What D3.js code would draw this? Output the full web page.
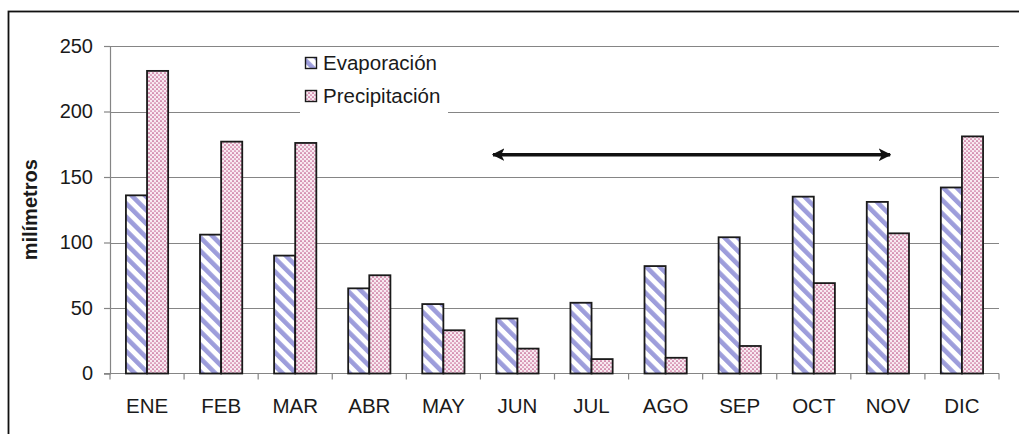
<!DOCTYPE html>
<html>
<head>
<meta charset="utf-8">
<script src="https://cdn.jsdelivr.net/npm/d3@7"></script>
<style>
  html, body { margin: 0; padding: 0; background: #fff; }
  svg { display: block; font-family: "Liberation Sans", Arial, sans-serif; }
</style>
</head>
<body>
<svg id="chart" width="1019" height="434"></svg>
<script>
const months = ["ENE","FEB","MAR","ABR","MAY","JUN","JUL","AGO","SEP","OCT","NOV","DIC"];
const evaporacion = [136, 106, 90, 65, 53, 42, 54, 82, 104, 135, 131, 142];
const precipitacion = [231, 177, 176, 75, 33, 19, 11, 12, 21, 69, 107, 181];
const seriesNames = ["Evaporación", "Precipitación"];
const yTicks = [0, 50, 100, 150, 200, 250];
const yLabel = "milímetros";
// annotation arrow (in category-index units and data value)
const arrowFromIndex = 5.17, arrowToIndex = 10.53, arrowValue = 167;

const svg = d3.select("#chart");
const defs = svg.append("defs");

// stripe pattern (Evaporación)
const stripe = defs.append("pattern")
  .attr("id", "stripe").attr("patternUnits", "userSpaceOnUse")
  .attr("width", 9.5).attr("height", 9.5)
  .attr("patternTransform", "rotate(-45)");
stripe.append("rect").attr("width", 9.5).attr("height", 9.5).attr("fill", "#ffffff");
stripe.append("rect").attr("x", 0).attr("width", 4.6).attr("height", 9.5).attr("fill", "#9d9ddb");

// dot pattern (Precipitación)
const dots = defs.append("pattern")
  .attr("id", "dots").attr("patternUnits", "userSpaceOnUse")
  .attr("width", 4).attr("height", 4);
dots.append("rect").attr("width", 4).attr("height", 4).attr("fill", "#f8eaf1");
dots.append("circle").attr("cx", 1).attr("cy", 1).attr("r", 0.85).attr("fill", "#b84a80");
dots.append("circle").attr("cx", 3).attr("cy", 3).attr("r", 0.85).attr("fill", "#c86a96");

const fills = ["url(#stripe)", "url(#dots)"];

const pLeft = 110, pRight = 999, pTop = 46, pBottom = 373.5;

const x = d3.scaleBand().domain(months).range([pLeft, pRight])
  .paddingInner(0.43).paddingOuter(0.215);
const xs = d3.scaleBand().domain(seriesNames).range([0, x.bandwidth()]);
const xi = d3.scaleLinear().domain([0, months.length]).range([pLeft, pRight]);
const y = d3.scaleLinear().domain([0, 250]).range([pBottom, pTop]);

// outer frame
svg.append("rect").attr("x", 8.5).attr("y", 11.5).attr("width", 1100).attr("height", 500)
  .attr("fill", "none").attr("stroke", "#111").attr("stroke-width", 1.8);

// gridlines
svg.append("g").selectAll("line").data(yTicks.filter(d => d > 0)).join("line")
  .attr("x1", pLeft).attr("x2", pRight)
  .attr("y1", d => Math.round(y(d)) + 0.5).attr("y2", d => Math.round(y(d)) + 0.5)
  .attr("stroke", "#858585").attr("stroke-width", 1.2);

// y axis
const yAxis = d3.axisLeft(y).tickValues(yTicks).tickSize(6).tickPadding(11);
const gy = svg.append("g").attr("transform", `translate(${pLeft},0)`).call(yAxis);
gy.select(".domain").attr("stroke", "#858585").attr("stroke-width", 1.2);
gy.selectAll(".tick line").attr("stroke", "#858585").attr("stroke-width", 1.2);
gy.selectAll(".tick text").attr("font-size", 20).attr("fill", "#1a1a1a")
  .attr("font-family", "Liberation Sans, Arial, sans-serif");

// x axis line and ticks at category boundaries
svg.append("line").attr("x1", pLeft - 6).attr("x2", pRight).attr("y1", pBottom).attr("y2", pBottom)
  .attr("stroke", "#858585").attr("stroke-width", 1.2);
svg.append("g").selectAll("line").data(d3.range(months.length + 1)).join("line")
  .attr("x1", d => xi(d)).attr("x2", d => xi(d))
  .attr("y1", pBottom).attr("y2", pBottom + 6)
  .attr("stroke", "#858585").attr("stroke-width", 1.2);
svg.append("g").selectAll("text").data(months).join("text")
  .attr("x", d => x(d) + x.bandwidth() / 2).attr("y", 413)
  .attr("text-anchor", "middle").attr("font-size", 20.5).attr("fill", "#1a1a1a")
  .text(d => d);

// bars
const seriesData = [evaporacion, precipitacion];
seriesNames.forEach((s, si) => {
  svg.append("g").selectAll("rect").data(months).join("rect")
    .attr("x", d => x(d) + xs(s))
    .attr("y", (d, i) => y(seriesData[si][i]))
    .attr("width", xs.bandwidth())
    .attr("height", (d, i) => y(0) - y(seriesData[si][i]))
    .attr("fill", fills[si])
    .attr("stroke", "#1a1a1a").attr("stroke-width", 1.8);
});

// y axis label
svg.append("text")
  .attr("transform", `translate(37,${(pTop + pBottom) / 2}) rotate(-90)`)
  .attr("text-anchor", "middle").attr("font-size", 20).attr("font-weight", "bold")
  .attr("fill", "#1a1a1a").text(yLabel);

// legend
const lg = svg.append("g");
lg.append("rect").attr("x", 300).attr("y", 49).attr("width", 148).attr("height", 65).attr("fill", "#fff");
seriesNames.forEach((s, i) => {
  const cy = 63 + i * 33;
  lg.append("rect").attr("x", 305.5).attr("y", cy - 5.5).attr("width", 11).attr("height", 11)
    .attr("fill", fills[i]).attr("stroke", "#1a1a1a").attr("stroke-width", 1.4);
  lg.append("text").attr("x", 323).attr("y", cy + 7).attr("font-size", 20.5)
    .attr("fill", "#1a1a1a").text(s);
});

// arrow annotation
defs.append("marker").attr("id", "ah").attr("viewBox", "0 0 10 10")
  .attr("refX", 9).attr("refY", 5).attr("markerWidth", 3.6).attr("markerHeight", 3.6)
  .attr("markerUnits", "strokeWidth").attr("orient", "auto-start-reverse")
  .append("path").attr("d", "M0,0 L10,5 L0,10 L2.5,5 Z").attr("fill", "#111");
svg.append("line")
  .attr("x1", xi(arrowFromIndex)).attr("x2", xi(arrowToIndex))
  .attr("y1", y(arrowValue)).attr("y2", y(arrowValue))
  .attr("stroke", "#111").attr("stroke-width", 3.5)
  .attr("marker-start", "url(#ah)").attr("marker-end", "url(#ah)");
</script>
</body>
</html>
